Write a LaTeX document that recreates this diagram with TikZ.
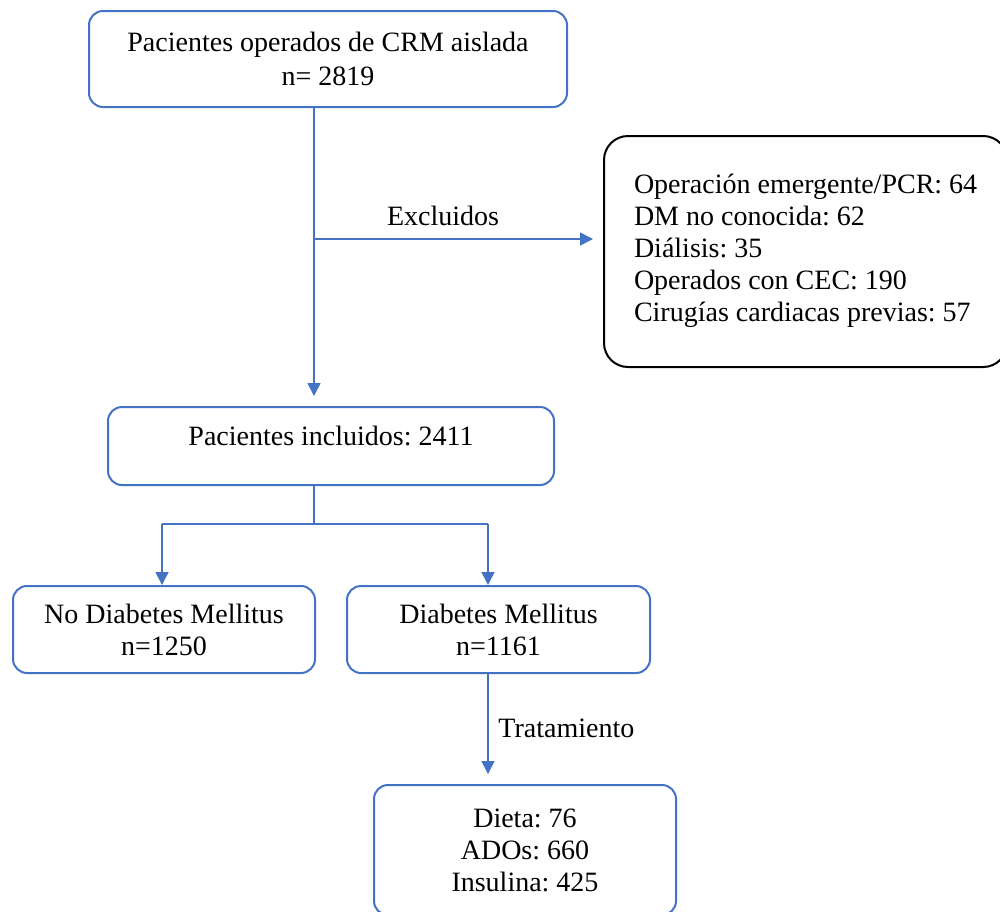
\documentclass[tikz,border=0pt]{standalone}
\usepackage{fontspec}
\setmainfont{Liberation Serif}
\usetikzlibrary{arrows.meta}
\definecolor{flowblue}{HTML}{4472C4}
\begin{document}
\frenchspacing
\begin{tikzpicture}[x=0.5pt,y=-0.5pt,
  every node/.style={font=\fontsize{14pt}{16pt}\selectfont, text=black},
  bluebox/.style={draw=flowblue, line width=1pt, rounded corners=7pt, align=center, inner sep=0pt},
  blackbox/.style={draw=black, line width=1pt, rounded corners=12pt, inner xsep=15pt, inner ysep=0pt},
  conn/.style={draw=flowblue, line width=0.8pt},
  arr/.style={conn, -{Triangle[length=6.5pt,width=6.5pt]}},
  lbl/.style={inner sep=0pt}
]
\useasboundingbox (0,0) rectangle (1000,911);

\node[bluebox, minimum width=239pt, minimum height=48pt, font=\fontsize{14pt}{16.8pt}\selectfont] (top) at (328,59)
  {Pacientes operados de CRM aislada\\n= 2819};
\node[blackbox, anchor=west, minimum height=115.5pt] (excl) at (603,251.5)
  {\begin{tabular}{@{}l@{}}Operación emergente/PCR: 64\\DM no conocida: 62\\Diálisis: 35\\Operados con CEC: 190\\Cirugías cardiacas previas: 57\end{tabular}};
\node[bluebox, minimum width=223pt, minimum height=39pt, text height=10pt, text depth=11pt] (inc) at (331,446)
  {Pacientes incluidos: 2411};
\node[bluebox, minimum width=151pt, minimum height=43.5pt] (nodm) at (164,629.5)
  {No Diabetes Mellitus\\n=1250};
\node[bluebox, minimum width=151.5pt, minimum height=43.5pt] (dm) at (498.5,629.5)
  {Diabetes Mellitus\\n=1161};
\node[bluebox, minimum width=151pt, minimum height=65pt] (trt) at (525,850)
  {Dieta: 76\\ADOs: 660\\Insulina: 425};

\coordinate (j1) at (314,239);
\coordinate (j2) at (314,524);
\coordinate (jl) at (162,524);
\coordinate (jr) at (488,524);
\coordinate (j3) at (488,700);

\draw[conn] (top.south -| j1) -- (j1);
\draw[arr, shorten >=5pt] (j1) -- (inc.north -| j1);
\draw[arr, shorten >=5pt] (j1) -- (excl.west |- j1);
\node[lbl] (excllbl) at (443,216) {Excluidos};

\draw[conn] (inc.south -| j2) -- (j2);
\draw[conn] (jl) -- (jr);
\draw[arr] (jl) -- (nodm.north -| jl);
\draw[arr] (jr) -- (dm.north -| jr);

\draw[arr, shorten >=5pt] (dm.south -| j3) -- (trt.north -| j3);
\node[lbl, anchor=west] (trtlbl) at (498,728) {Tratamiento};
\end{tikzpicture}
\end{document}
